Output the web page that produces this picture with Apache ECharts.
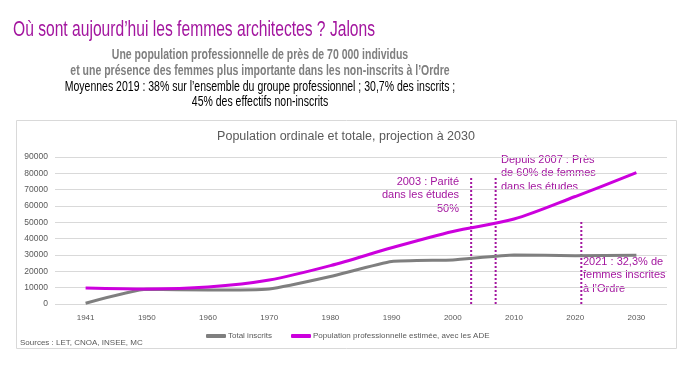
<!DOCTYPE html>
<html><head><meta charset="utf-8">
<script src="https://cdn.jsdelivr.net/npm/echarts@6/dist/echarts.min.js"></script>
<style>html,body{margin:0;padding:0;background:#fff}#c{width:697px;height:366px}</style>
</head><body><div id="c"></div>
<script>
const years = ['1941','1950','1960','1970','1980','1990','2000','2010','2020','2030'];
const totalInscrits = [500, 9000, 8500, 9200, 16800, 26000, 27000, 30000, 29600, 29800];
const populationPro = [9800, 9200, 10400, 14700, 23500, 34400, 44400, 52000, 65800, 80400];
const yTicks = [0, 10000, 20000, 30000, 40000, 50000, 60000, 70000, 80000, 90000];
// milestone positions expressed in category index units (2000 = 6, 2010 = 7, ...)
const milestoneX = [6.3, 6.7, 8.1];
const milestoneTop = [77800, 77800, 50200];
const milestoneText = [
  '2003 : Parité\ndans les études\n50%',
  'Depuis 2007 : Près\nde 60% de femmes\ndans les études',
  '2021 : 32,3% de\nfemmes inscrites\nà l\u2019Ordre'
];

const chart = echarts.init(document.getElementById('c'));
const dotColor = '#A3169F';
const F = '"Liberation Sans", Arial, sans-serif';
const milestoneSeries = milestoneX.map((x, i) => ({
  type: 'line', xAxisIndex: 1, yAxisIndex: 0, silent: true, symbol: 'none',
  lineStyle: { color: dotColor, width: 2, type: [2, 2] },
  data: [[x, 0], [x, milestoneTop[i]]], z: 1
}));
chart.setOption({
  animation: false,
  textStyle: { fontFamily: F },
  graphic: [
    { type: 'rect', shape: { x: 16.5, y: 120.5, width: 660, height: 228 }, style: { fill: 'none', stroke: '#D9D9D9', lineWidth: 1 }, z: -1 },
    { type: 'text', x: 13, y: 19, scaleX: 0.71, style: { text: 'Où sont aujourd\u2019hui les femmes architectes ? Jalons', fill: '#A3169F', font: '22px ' + F } },
    { type: 'text', x: 260, y: 48, scaleX: 0.75, style: { text: 'Une population professionnelle de près de 70 000 individus', align: 'center', fill: '#7F7F7F', font: 'bold 14px ' + F } },
    { type: 'text', x: 260, y: 64, scaleX: 0.75, style: { text: 'et une présence des femmes plus importante dans les non-inscrits à l\u2019Ordre', align: 'center', fill: '#7F7F7F', font: 'bold 14px ' + F } },
    { type: 'text', x: 260, y: 80, scaleX: 0.75, style: { text: 'Moyennes 2019 : 38% sur l\u2019ensemble du groupe professionnel ; 30,7% des inscrits ;', align: 'center', fill: '#000', font: '14px ' + F } },
    { type: 'text', x: 260, y: 95, scaleX: 0.75, style: { text: '45% des effectifs non-inscrits', align: 'center', fill: '#000', font: '14px ' + F } },
    { type: 'text', x: 346, y: 130, style: { text: 'Population ordinale et totale, projection à 2030', align: 'center', fill: '#595959', font: '12.5px ' + F } },
    { type: 'text', x: 20, y: 339, style: { text: 'Sources : LET, CNOA, INSEE, MC', fill: '#595959', font: '8px ' + F } },
    { type: 'text', x: 459, y: 175, style: { text: milestoneText[0], align: 'right', fill: dotColor, font: '11px ' + F, lineHeight: 13.5 } },
    { type: 'text', x: 501, y: 153, style: { text: milestoneText[1], align: 'left', fill: dotColor, font: '11px ' + F, lineHeight: 13.5 } },
    { type: 'text', x: 583, y: 255, style: { text: milestoneText[2], align: 'left', fill: dotColor, font: '11px ' + F, lineHeight: 13.5 } }
  ],
  grid: { left: 55, right: 30, top: 157, bottom: 62, containLabel: false },
  legend: {
    data: ['Total inscrits', 'Population professionnelle estimée, avec les ADE'],
    bottom: 26, left: 206, padding: 0, itemWidth: 20, itemHeight: 4, itemGap: 19,
    icon: 'roundRect',
    textStyle: { fontSize: 8, color: '#595959', padding: [0, 0, 0, -3] }
  },
  xAxis: [
    { type: 'category', data: years, boundaryGap: true,
      axisLine: { show: false }, axisTick: { show: false },
      axisLabel: { color: '#595959', fontSize: 8, margin: 10 } },
    { type: 'value', min: -0.5, max: 9.5, show: false }
  ],
  yAxis: { type: 'value', min: 0, max: 90000, interval: 10000,
    axisLabel: { color: '#595959', fontSize: 8.5, margin: 7, formatter: v => String(v) },
    splitLine: { lineStyle: { color: '#D9D9D9' } },
    axisLine: { show: false }, axisTick: { show: false } },
  series: [
    { name: 'Total inscrits', type: 'line', data: totalInscrits, symbol: 'none', smooth: 0.15,
      lineStyle: { color: '#7F7F7F', width: 3 }, itemStyle: { color: '#7F7F7F' }, z: 3 },
    { name: 'Population professionnelle estimée, avec les ADE', type: 'line', data: populationPro, symbol: 'none', smooth: 0.3,
      lineStyle: { color: '#CC00DD', width: 3 }, itemStyle: { color: '#CC00DD' }, z: 4 },
    ...milestoneSeries
  ]
});
</script></body></html>
